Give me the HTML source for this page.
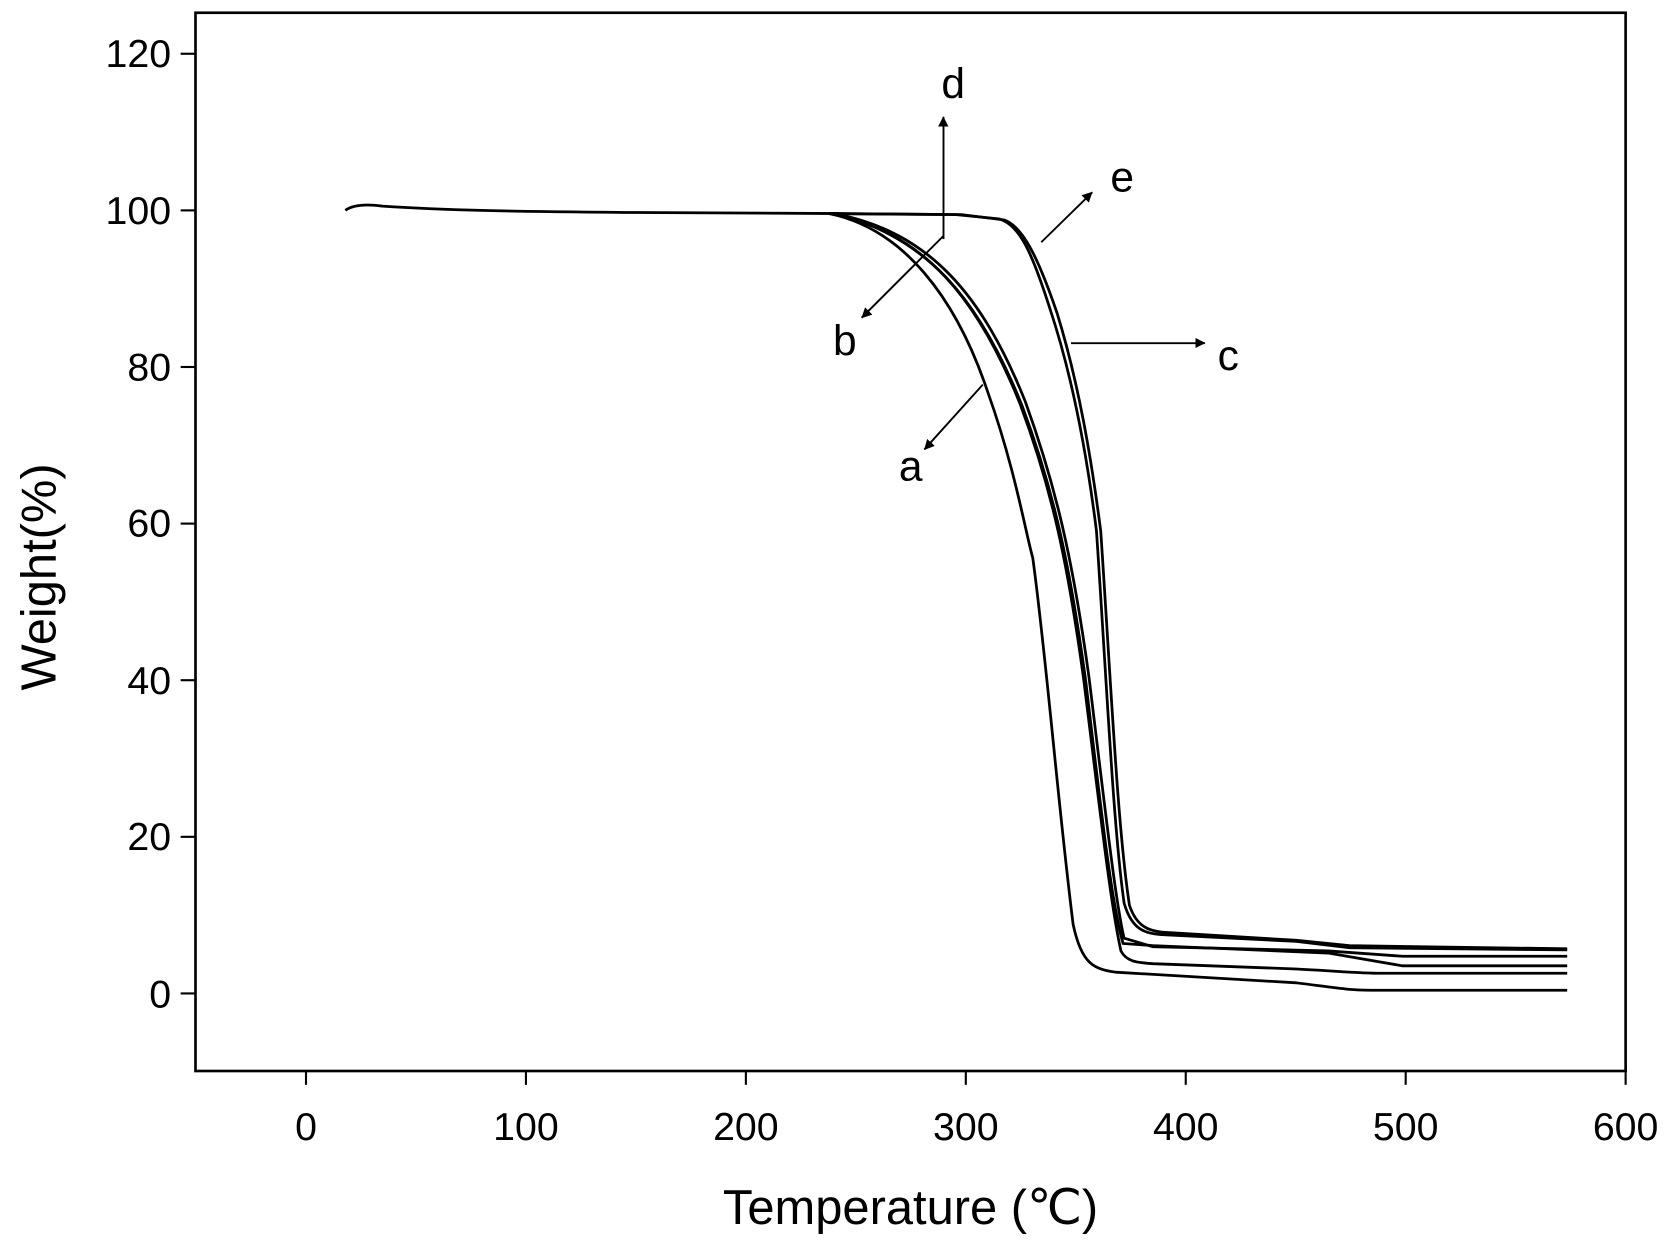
<!DOCTYPE html>
<html><head><meta charset="utf-8"><style>html,body{margin:0;padding:0;background:#fff}svg{display:block}</style></head><body>
<svg width="1666" height="1241" viewBox="0 0 1568 1168" preserveAspectRatio="none" xmlns="http://www.w3.org/2000/svg" font-family="Liberation Sans, sans-serif">
<defs><marker id="ar" markerWidth="10" markerHeight="10" refX="9" refY="5" orient="auto" markerUnits="userSpaceOnUse"><path d="M0,0 L10,5 L0,10 z" fill="#000" transform="scale(1.6) translate(-4,-2)"/></marker></defs>
<rect x="184" y="12" width="1346" height="996" fill="none" stroke="#000" stroke-width="2.5"/>
<g stroke="#000" stroke-width="2">
<line x1="170" y1="50.6" x2="184" y2="50.6"/><line x1="170" y1="198" x2="184" y2="198"/><line x1="170" y1="345.4" x2="184" y2="345.4"/><line x1="170" y1="492.8" x2="184" y2="492.8"/><line x1="170" y1="640.2" x2="184" y2="640.2"/><line x1="170" y1="787.6" x2="184" y2="787.6"/><line x1="170" y1="935" x2="184" y2="935"/>
<line x1="288" y1="1008" x2="288" y2="1021"/><line x1="495" y1="1008" x2="495" y2="1021"/><line x1="702" y1="1008" x2="702" y2="1021"/><line x1="909" y1="1008" x2="909" y2="1021"/><line x1="1116" y1="1008" x2="1116" y2="1021"/><line x1="1323" y1="1008" x2="1323" y2="1021"/><line x1="1530" y1="1008" x2="1530" y2="1021"/>
</g>
<g font-size="37" text-anchor="end">
<text x="161" y="63">120</text><text x="161" y="211">100</text><text x="161" y="358">80</text><text x="161" y="505">60</text><text x="161" y="653">40</text><text x="161" y="800">20</text><text x="161" y="948">0</text>
</g>
<g font-size="37" text-anchor="middle">
<text x="288" y="1073">0</text><text x="495" y="1073">100</text><text x="702" y="1073">200</text><text x="909" y="1073">300</text><text x="1116" y="1073">400</text><text x="1323" y="1073">500</text><text x="1530" y="1073">600</text>
</g>
<text x="857" y="1152" font-size="46" text-anchor="middle">Temperature (℃)</text>
<text transform="translate(52,543) rotate(-90)" font-size="46" text-anchor="middle">Weight(%)</text>
<g fill="none" stroke="#000" stroke-width="2.6">
<path d="M325,198 C332,193 345,192 360,194 C420,198 480,199 600,200 L790,201"/>
<path d="M780,201 C850,215 900,280 930,370 C955,440 965,500 972,525 C985,620 995,750 1010,870 C1018,908 1030,912 1050,915 L1220,925 C1260,930 1270,932 1290,932 L1475,932"/>
<path d="M785,201 C870,220 920,280 960,380 C990,460 1005,530 1020,640 C1035,760 1045,850 1055,895 C1060,905 1070,906 1085,907 L1220,912 C1260,914 1280,916 1300,916 L1475,916"/>
<path d="M785,201 C872,222 922,282 962,382 C992,462 1007,532 1022,642 C1036,760 1046,850 1057,888 L1085,890 L1250,897 L1320,909 L1475,909"/>
<path d="M785,201 C875,218 925,278 965,378 C994,458 1010,528 1025,638 C1040,760 1050,850 1058,883 L1085,891 L1250,895 L1320,900 L1475,900"/>
<path d="M780,201 L900,202 L940,206 C960,211 972,240 988,290 C1008,350 1022,420 1032,500 C1042,650 1048,780 1058,850 C1066,878 1080,879 1100,880 L1220,886 L1270,892 L1475,894"/>
<path d="M780,201 L905,202 L945,207 C963,213 978,245 995,295 C1015,360 1027,430 1036,500 C1046,650 1052,780 1063,852 C1071,876 1085,877 1105,878 L1220,885 L1270,890 L1475,893"/>
</g>
<g stroke="#000" stroke-width="1.8" marker-end="url(#ar)">
<line x1="888" y1="225" x2="888" y2="110"/>
<line x1="888" y1="222" x2="811" y2="299"/>
<line x1="980" y1="228" x2="1028" y2="181"/>
<line x1="1008" y1="323" x2="1134" y2="323"/>
<line x1="925" y1="362" x2="870" y2="423"/>
</g>
<g font-size="40">
<text x="886" y="92">d</text><text x="784" y="334">b</text><text x="1045" y="180">e</text><text x="1146" y="348">c</text><text x="846" y="452">a</text>
</g>
</svg>
</body></html>
